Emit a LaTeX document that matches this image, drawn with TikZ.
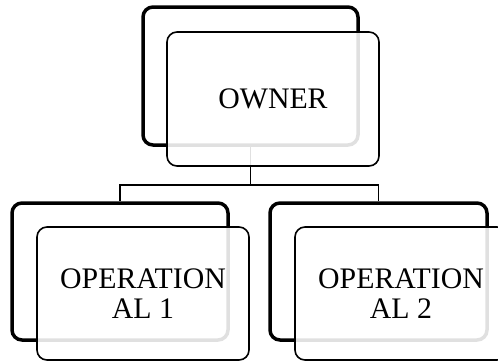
\documentclass[tikz,border=0pt]{standalone}
\usepackage{fontspec}
\setmainfont{Liberation Serif}
\begin{document}
\begin{tikzpicture}[x=1pt,y=-1pt,
  backbox/.style={draw=black,line width=3.5pt,rounded corners=10pt,minimum width=#1,minimum height=137pt,inner sep=0pt},
  frontbox/.style={draw=black,line width=1.6pt,rounded corners=10pt,fill=white,fill opacity=0.88,text opacity=1,minimum width=212pt,minimum height=134pt,inner sep=0pt,align=center,font=\fontsize{29.8}{30}\selectfont},
  conn/.style={draw=black,line width=1.4pt}]
\useasboundingbox (0,0) rectangle (498,362);
\node[backbox=215pt,minimum height=138pt] (ob) at (250.5,76) {};
\node[backbox=216pt] (c1b) at (120,271.5) {};
\node[backbox=217pt] (c2b) at (378.5,271.5) {};
\coordinate (bus) at (0,185);
\draw[conn] (ob.south) -- (ob.south |- bus) -| (c1b.north);
\draw[conn] (ob.south |- bus) -| (c2b.north);
\node[frontbox] (of) at (273,99) {OWNER};
\node[frontbox,minimum height=133pt] (c1f) at (143,293.5) {OPERATION\\AL 1};
\node[frontbox,minimum height=133pt] (c2f) at (401,293.5) {OPERATION\\AL 2};
\end{tikzpicture}
\end{document}
